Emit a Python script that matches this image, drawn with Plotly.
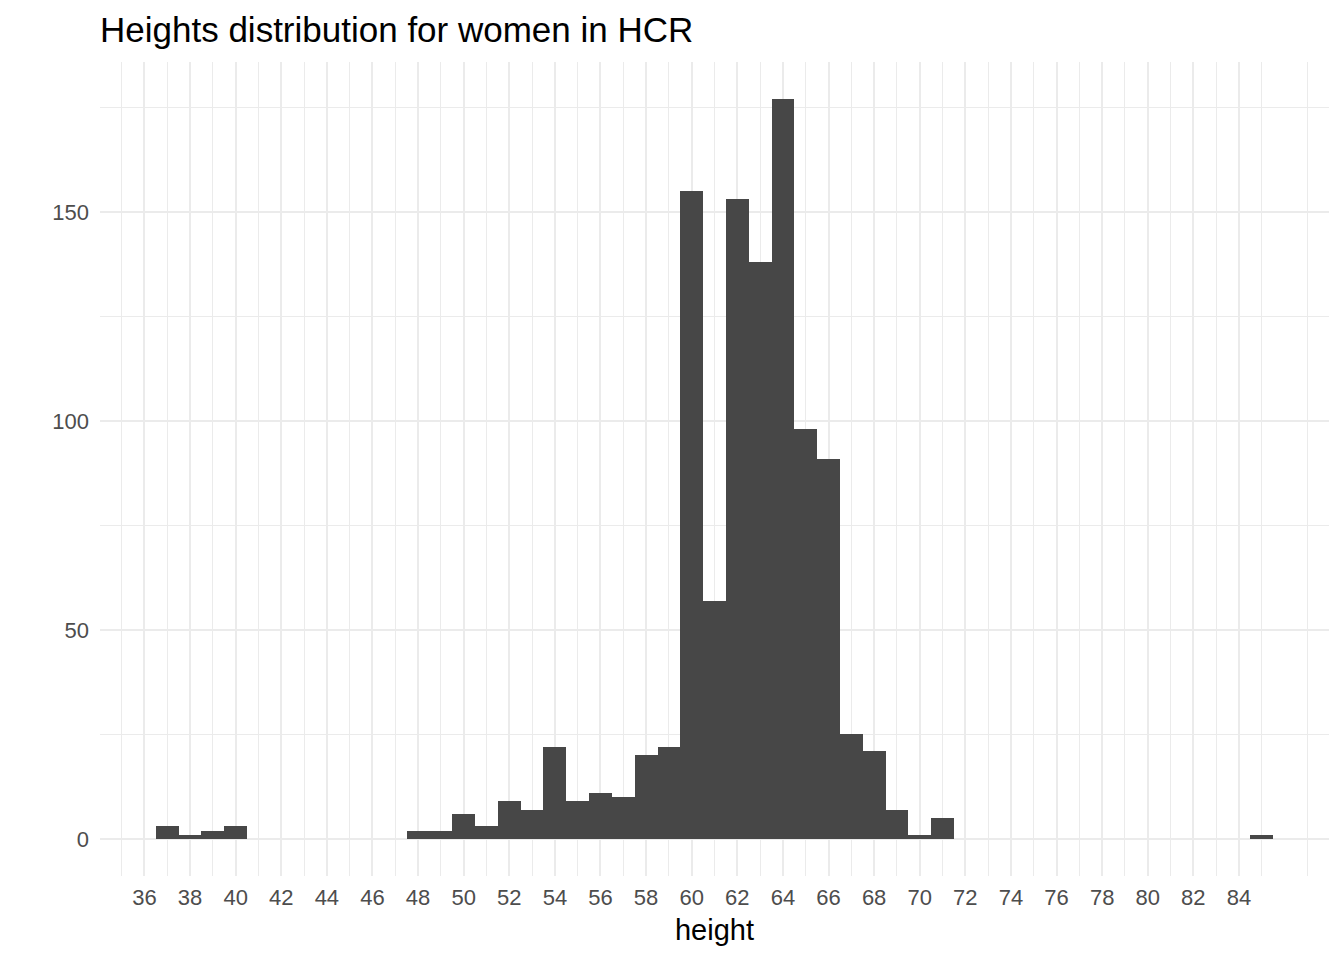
import plotly.graph_objects as go

# bin centres (binwidth 1) and counts
heights = list(range(37, 86))
counts = [
    3, 1, 2, 3,              # 37-40
    0, 0, 0, 0, 0, 0, 0,     # 41-47
    2, 2, 6, 3, 9, 7, 22, 9, 11, 10, 20, 22,   # 48-59
    155, 57, 153, 138, 177, 98, 91, 25, 21, 7, 1, 5,  # 60-71
    0, 0, 0, 0, 0, 0, 0, 0, 0, 0, 0, 0, 0,  # 72-84
    1,                       # 85
]

x_ticks = list(range(36, 85, 2))
y_ticks = [0, 50, 100, 150]

grid = "#EBEBEB"
font = "Liberation Sans, Arial, sans-serif"

fig = go.Figure(
    go.Bar(
        x=heights,
        y=counts,
        width=1,
        marker={"color": "#474747", "line": {"width": 0}},
    )
)

fig.update_xaxes(
    range=[34.05, 87.95],
    tickvals=x_ticks,
    ticktext=[str(v) for v in x_ticks],
    showgrid=True,
    gridcolor=grid,
    gridwidth=2,
    minor={"tickvals": list(range(35, 88, 2)), "showgrid": True, "gridcolor": grid, "gridwidth": 1},
    zeroline=False,
    showline=False,
    ticks="",
    ticklabelstandoff=6,
    tickfont={"size": 22, "color": "#4D4D4D", "family": font},
    title={"text": "height", "font": {"size": 29, "color": "black", "family": font}, "standoff": 10},
)

fig.update_yaxes(
    range=[-8.85, 185.85],
    tickvals=y_ticks,
    showgrid=True,
    gridcolor=grid,
    gridwidth=2,
    minor={"tickvals": [25, 75, 125, 175], "showgrid": True, "gridcolor": grid, "gridwidth": 1},
    zeroline=False,
    showline=False,
    ticks="",
    ticklabelstandoff=10,
    tickfont={"size": 22, "color": "#4D4D4D", "family": font},
)

fig.update_layout(
    width=1344,
    height=960,
    margin={"l": 92, "r": 23, "t": 54, "b": 92},
    plot_bgcolor="white",
    paper_bgcolor="white",
    showlegend=False,
    bargap=0,
    title={
        "text": "Heights distribution for women in HCR",
        "x": 0,
        "xref": "paper",
        "xanchor": "left",
        "y": 1 - 22 / 960,
        "yref": "container",
        "yanchor": "middle",
        "font": {"size": 35, "color": "black", "family": font},
    },
)

fig.write_html("out.html")
